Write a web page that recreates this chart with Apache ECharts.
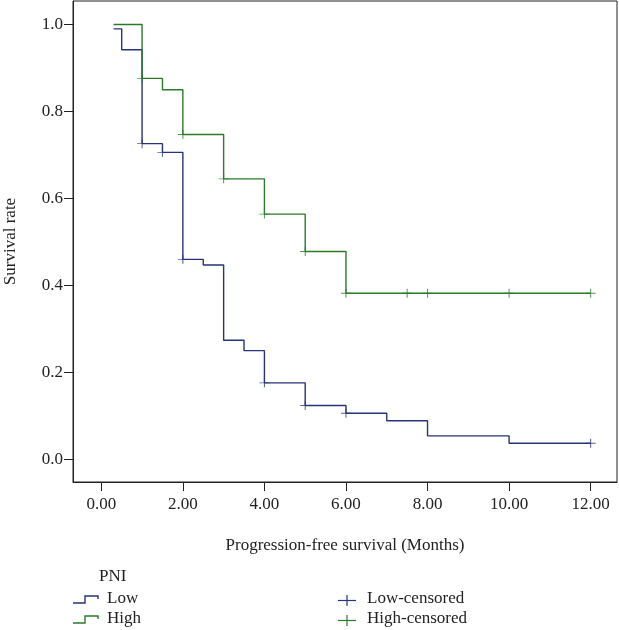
<!DOCTYPE html>
<html>
<head>
<meta charset="utf-8">
<script src="https://cdn.jsdelivr.net/npm/echarts@6/dist/echarts.min.js"></script>
<style>html,body{margin:0;padding:0;background:#fff}#c{width:619px;height:630px}</style>
</head>
<body>
<div id="c"></div>
<script>
// ---- data ----
var lowSteps = [[0.3,0.99],[0.5,0.942],[1.0,0.726],[1.5,0.706],[2.0,0.46],[2.5,0.447],[3.0,0.274],[3.5,0.25],[4.0,0.176],[5.0,0.124],[6.0,0.106],[7.0,0.089],[8.0,0.054],[10.0,0.037],[12.0,0.037]];
var highSteps = [[0.3,1.0],[1.0,0.876],[1.5,0.85],[2.0,0.747],[3.0,0.645],[4.0,0.564],[5.0,0.478],[6.0,0.382],[12.0,0.382]];
var lowCensored = [[1.0,0.726],[1.5,0.706],[2.0,0.46],[4.0,0.176],[5.0,0.124],[6.0,0.106],[12.0,0.037]];
var highCensored = [[1.0,0.876],[2.0,0.747],[3.0,0.645],[4.0,0.564],[5.0,0.478],[6.0,0.382],[7.5,0.382],[8.0,0.382],[10.0,0.382],[12.0,0.382]];
var xTicks = [0,2,4,6,8,10,12];
var yTicks = [0,0.2,0.4,0.6,0.8,1.0];
var legendTitle = 'PNI';
var seriesNames = ['Low','High','Low-censored','High-censored'];

var NAVY = '#27337a', GREEN = '#2b7a2b';
var FONT = 'Liberation Serif';
var FS = 17;
var plusPath = 'path://M0,4.5h10v1h-10z M4.5,0h1v10h-1z';

var chart = echarts.init(document.getElementById('c'));
var txt = {fontFamily: FONT, fontSize: FS, color: '#222'};
var f = FS + 'px "' + FONT + '"';
chart.setOption({
  animation: false,
  backgroundColor: '#fff',
  grid: {left: 73, right: 2, top: 1, bottom: 148, show: true, borderColor: '#222', borderWidth: 1, containLabel: false, outerBoundsMode: 'none'},
  xAxis: {
    type: 'value', min: -0.694, max: 12.646,
    name: 'Progression-free survival (Months)', nameLocation: 'middle', nameGap: 55,
    nameTextStyle: txt,
    axisLine: {show: true, onZero: false, lineStyle: {color: '#222', width: 1}},
    axisTick: {show: true, length: 9, customValues: xTicks, lineStyle: {color: '#222'}},
    axisLabel: {customValues: xTicks, margin: 14, formatter: function(v){return v.toFixed(2);}, fontFamily: FONT, fontSize: FS, color: '#222'},
    splitLine: {show: false}
  },
  yAxis: {
    type: 'value', min: -0.052, max: 1.054,
    name: 'Survival rate', nameLocation: 'middle', nameGap: 54,
    nameTextStyle: txt,
    axisLine: {show: true, onZero: false, lineStyle: {color: '#222', width: 1}},
    axisTick: {show: true, length: 9, customValues: yTicks, lineStyle: {color: '#222'}},
    axisLabel: {customValues: yTicks, margin: 10, formatter: function(v){return v.toFixed(1);}, fontFamily: FONT, fontSize: FS, color: '#222'},
    splitLine: {show: false}
  },
  series: [
    {name: seriesNames[0], type: 'line', step: 'end', data: lowSteps, showSymbol: false, symbol: 'none', lineStyle: {color: NAVY, width: 1.4}, z: 2},
    {name: seriesNames[1], type: 'line', step: 'end', data: highSteps, showSymbol: false, symbol: 'none', lineStyle: {color: GREEN, width: 1.4}, z: 2},
    {name: seriesNames[2], type: 'scatter', data: lowCensored, symbol: plusPath, symbolSize: [10, 9], itemStyle: {color: NAVY}, z: 3},
    {name: seriesNames[3], type: 'scatter', data: highCensored, symbol: plusPath, symbolSize: [10, 9], itemStyle: {color: GREEN}, z: 3}
  ],
  graphic: [
    {type: 'text', left: 99, top: 568, style: {text: legendTitle, font: f, fill: '#222'}},
    {type: 'polyline', shape: {points: [[73,603],[85,603],[85,596],[98,596],[98,599]]}, style: {stroke: NAVY, lineWidth: 1.4, fill: null}},
    {type: 'text', left: 107, top: 590, style: {text: seriesNames[0], font: f, fill: '#222'}},
    {type: 'polyline', shape: {points: [[73,623],[85,623],[85,616],[98,616],[98,619]]}, style: {stroke: GREEN, lineWidth: 1.4, fill: null}},
    {type: 'text', left: 107, top: 610, style: {text: seriesNames[1], font: f, fill: '#222'}},
    {type: 'line', shape: {x1: 338, y1: 600.5, x2: 356, y2: 600.5}, style: {stroke: NAVY, lineWidth: 1.2}},
    {type: 'line', shape: {x1: 347, y1: 595, x2: 347, y2: 606}, style: {stroke: NAVY, lineWidth: 1.2}},
    {type: 'text', left: 367, top: 590, style: {text: seriesNames[2], font: f, fill: '#222'}},
    {type: 'line', shape: {x1: 338, y1: 620.5, x2: 356, y2: 620.5}, style: {stroke: GREEN, lineWidth: 1.2}},
    {type: 'line', shape: {x1: 347, y1: 615, x2: 347, y2: 626}, style: {stroke: GREEN, lineWidth: 1.2}},
    {type: 'text', left: 367, top: 610, style: {text: seriesNames[3], font: f, fill: '#222'}}
  ]
});
</script>
</body>
</html>
